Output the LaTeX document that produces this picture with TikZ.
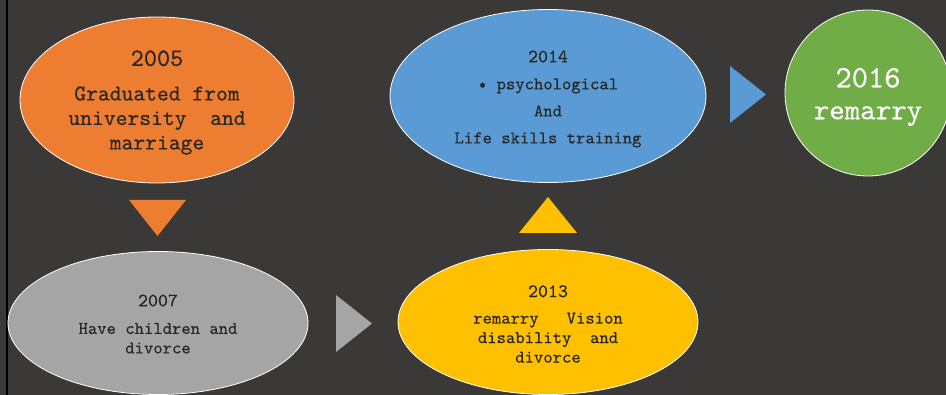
\documentclass[tikz,border=0pt]{standalone}
\usepackage{fontspec}
\newfontfamily\stagefont{lmmono10-regular.otf}[FakeBold=0.3]
\usetikzlibrary{shapes.geometric}
\definecolor{bgdark}{HTML}{3A3938}
\definecolor{stageorange}{HTML}{ED7D31}
\definecolor{stagegray}{HTML}{A5A5A5}
\definecolor{stageyellow}{HTML}{FFC000}
\definecolor{stageblue}{HTML}{5B9BD5}
\definecolor{stagegreen}{HTML}{70AD47}
\definecolor{inktext}{HTML}{262626}
\tikzset{
  stage/.style={ellipse,draw=white,line width=0.8pt,inner sep=0pt},
  stagetext/.style={inner sep=0pt,align=center,text=inktext},
}
\begin{document}
\begin{tikzpicture}[x=1pt,y=-1pt]
    \fill[bgdark] (0,0) rectangle (946,395);
    \useasboundingbox (0,0) rectangle (946,395);
    \fill[black] (5.5,0) rectangle (8.4,395);

    % the stages
    \node[stage,fill=stageorange,minimum width=274pt,minimum height=166pt] (y2005) at (157,100) {};
    \node[stage,fill=stagegray,minimum width=300pt,minimum height=143pt] (y2007) at (158,323) {};
    \node[stage,fill=stageyellow,minimum width=300pt,minimum height=145pt] (y2013) at (548,322) {};
    \node[stage,fill=stageblue,minimum width=316pt,minimum height=173pt] (y2014) at (548,96) {};
    \node[stage,circle,fill=stagegreen,minimum size=166pt] (y2016) at (868,93) {};

    \node[stagetext,font=\stagefont\fontsize{22.5}{24.5}\selectfont] (t2005) at ([yshift=-2.5pt]y2005.center)
      {{\fontsize{25}{24}\selectfont 2005}\\[10pt]Graduated from\\university~ and\\marriage};
    \node[stagetext,font=\stagefont\fontsize{17.8}{19.5}\selectfont] (t2007) at ([yshift=-1pt]y2007.center)
      {{\fontsize{19}{19.5}\selectfont 2007}\\[8pt]Have children and\\divorce};
    \node[stagetext,font=\stagefont\fontsize{17.8}{19.5}\selectfont] (t2013) at ([yshift=-2pt]y2013.center)
      {{\fontsize{19}{19.5}\selectfont 2013}\\[7pt]remarry~~ Vision\\disability~ and\\divorce};
    \node[stagetext,font=\stagefont\fontsize{17.8}{27}\selectfont] (t2014) at ([yshift=-3pt]y2014.center)
      {{\fontsize{19}{27}\selectfont 2014}\\\textbullet\ psychological\\And\\Life skills training};
    \node[stagetext,text=white,font=\stagefont\fontsize{29.5}{32}\selectfont] (t2016) at ([yshift=-4pt]y2016.center)
      {{\fontsize{31}{32}\selectfont 2016}\\remarry};

    % markers between the stages
    \fill[stageorange] (129,200) -- (186,200) -- (157.5,236) -- cycle;
    \fill[stagegray] (336,295) -- (336,352) -- (372,323.5) -- cycle;
    \fill[stageyellow] (519,233) -- (577,233) -- (548,197) -- cycle;
    \fill[stageblue] (730,66) -- (730,123) -- (766,94.5) -- cycle;
\end{tikzpicture}
\end{document}
